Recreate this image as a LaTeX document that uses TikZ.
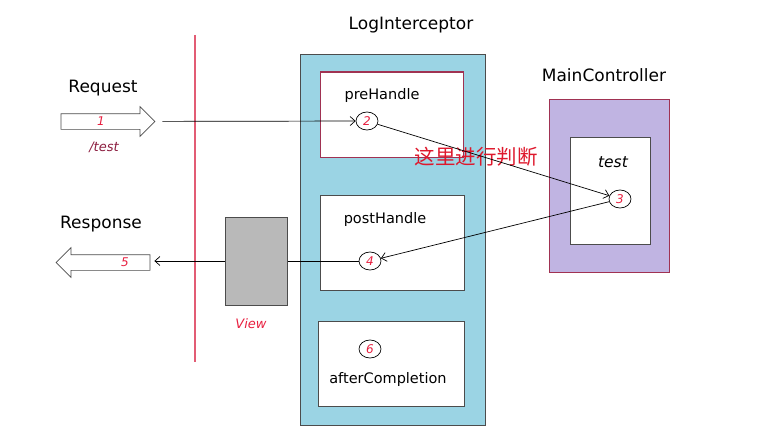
\documentclass[tikz,border=0pt]{standalone}
\usepackage{fontspec}
\setmainfont{DejaVu Sans}
\newfontfamily\cjk{Noto Sans CJK SC}
\usetikzlibrary{arrows.meta, shapes.geometric, shapes.arrows}
\definecolor{logblue}{RGB}{155,212,228}
\definecolor{ctrlpurple}{RGB}{192,180,226}
\definecolor{viewgray}{RGB}{185,185,185}
\definecolor{lineRed}{RGB}{226,92,116}
\definecolor{boxred}{RGB}{160,50,82}
\definecolor{numred}{RGB}{232,32,64}
\definecolor{cnred}{RGB}{222,24,44}
\definecolor{pathred}{RGB}{140,30,64}

\begin{document}
\begin{tikzpicture}[x=1pt, y=-1pt, >={Straight Barb[length=5pt, width=9pt]}, line width=0.7pt,
    title/.style={font=\fontsize{17}{20}\selectfont},
    label/.style={font=\fontsize{14.5}{17}\selectfont},
    num/.style={draw, ellipse, inner sep=0pt, minimum width=22pt, minimum height=18pt, text=numred, font=\fontsize{12}{14}\selectfont\itshape},
    bigarrow/.style={draw=black!70, fill=white, single arrow, inner xsep=0pt, inner ysep=7.5pt, single arrow head extend=7pt}]
    \useasboundingbox (0,0) rectangle (760,444);
    % boundary between client and server
    \draw[lineRed, line width=1.1pt] (195,35) -- (195,362);
    % interceptor
    \node[title] (logname) at (411,25) {LogInterceptor};
    \node[draw=black!70, line width=1pt, fill=logblue, minimum width=185pt, minimum height=370pt] (log) at (392.5,240) {};
    \node[draw=boxred, line width=1pt, fill=white, minimum width=143pt, minimum height=85pt] (pre) at (391.5,114.5) {};
    \node[draw=black!70, line width=1pt, fill=white, minimum width=144pt, minimum height=95pt] (post) at (392,242.5) {};
    \node[draw=black!70, line width=1pt, fill=white, minimum width=146pt, minimum height=85pt] (after) at (391,363.5) {};
    \node[label] (prename) at (382,95) {preHandle};
    \node[label] (postname) at (385,219) {postHandle};
    \node[label] (aftername) at (388,379) {afterCompletion};
    % controller
    \node[title] (ctrlname) at (604,75) {MainController};
    \node[draw=boxred, line width=1pt, fill=ctrlpurple, minimum width=120pt, minimum height=173pt] (ctrl) at (609,185.5) {};
    \node[draw=black!70, line width=1pt, fill=white, minimum width=80pt, minimum height=107pt] (testbox) at (610,190.5) {};
    \node[label, font=\fontsize{15.5}{17}\selectfont\itshape] (testname) at (613,162) {test};
    % view
    \node[draw=black!70, line width=1pt, fill=viewgray, minimum width=62pt, minimum height=88pt] (view) at (256,261) {};
    \node[label, text=numred, font=\fontsize{13}{15}\selectfont\itshape] (viewname) at (251,324) {View};
    % request and response
    \node[title] (reqname) at (103,88) {Request};
    \node[bigarrow, minimum height=94pt] (req) at (104,121.5) {};
    \node[text=numred, font=\fontsize{12}{14}\selectfont\itshape] (n1) at (101,121) {1};
    \node[text=pathred, font=\fontsize{13}{15}\selectfont\itshape] (path) at (104,147) {/test};
    \node[title] (respname) at (101,224) {Response};
    \node[bigarrow, shape border rotate=180, minimum height=94pt] (resp) at (107,262.5) {};
    \node[text=numred, font=\fontsize{12}{14}\selectfont\itshape] (n5) at (125,262) {5};
    % steps
    \node[num] (c2) at (367,121) {2};
    \node[num] (c3) at (620,199) {3};
    \node[num] (c4) at (370,261) {4};
    \node[num] (c6) at (370,349) {6};
    \node[text=cnred, font=\cjk\fontsize{20.5}{22}\selectfont] (judge) at (476,157) {这里进行判断};
    \draw[->, shorten <=7pt] (req) -- (c2);
    \draw[->] (c2) -- (c3);
    \draw[->] (c3) -- (c4);
    \draw (c4) -- (view);
    \draw[->, shorten >=4pt] (view) -- (resp.tail |- view);
\end{tikzpicture}
\end{document}
